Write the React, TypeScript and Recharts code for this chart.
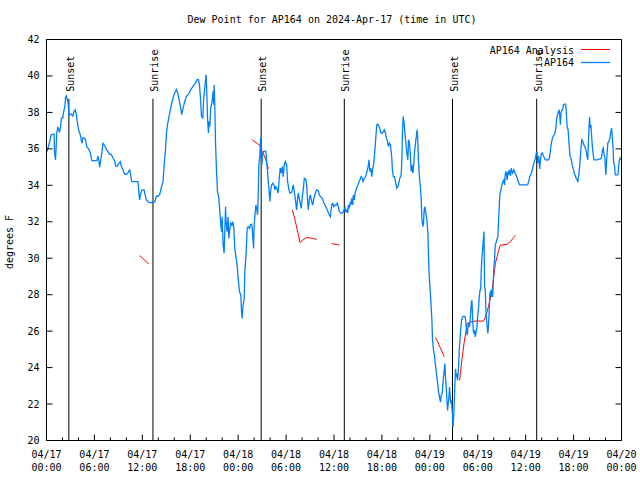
import React from 'react';
import { LineChart, Line, XAxis, YAxis, ReferenceLine } from 'recharts';

// hours since 04/17 00:00 UTC, dew point in degrees F
const apObsApr17: [number, number][] = [
  [0.08, 35.86], [0.4, 36.4], [0.6, 36.8], [0.95, 36.8], [1.0, 35.8], [1.13, 35.4], [1.29, 36.9], [1.42, 37.2],
  [1.63, 36.9], [1.76, 37.2], [1.88, 37.7], [2.05, 37.7], [2.13, 38.0], [2.3, 38.3], [2.38, 38.8], [2.47, 38.9],
  [2.6, 38.7], [2.72, 38.5], [2.8, 37.8], [2.89, 37.9], [3.1, 37.9], [3.3, 37.8], [3.43, 38.05], [3.6, 38.15],
  [3.73, 37.9], [3.85, 37.5], [4.02, 37.05], [4.14, 36.9], [4.27, 36.7], [4.43, 36.3], [4.55, 36.6], [4.68, 36.6],
  [4.86, 36.55], [5.06, 36.1], [5.27, 36.0], [5.48, 35.8], [5.68, 35.35], [5.9, 35.35], [6.31, 35.35], [6.44, 35.6],
  [6.56, 35.35], [6.65, 35.0], [6.78, 35.35], [6.94, 35.8], [7.06, 36.3], [7.19, 36.25], [7.36, 36.1], [7.49, 36.0],
  [7.69, 35.85], [7.9, 35.7], [8.12, 35.7], [8.32, 35.5], [8.53, 35.35], [8.66, 35.05], [8.87, 35.05], [9.07, 35.2],
  [9.25, 35.3], [9.37, 35.05], [9.57, 34.85], [9.79, 34.6], [10.0, 34.6], [10.2, 34.7], [10.41, 34.85], [10.54, 34.6],
  [10.66, 34.2], [11.46, 34.2], [11.58, 33.5], [11.67, 33.2], [11.79, 33.55], [11.96, 33.75], [12.21, 33.75], [12.33, 33.5],
  [12.51, 33.2], [12.71, 33.1], [12.92, 33.05], [13.34, 33.05], [13.55, 33.1], [13.76, 33.4], [13.96, 33.4], [14.18, 33.5],
  [14.39, 33.9], [14.59, 34.2], [14.72, 35.05], [14.89, 35.9], [15.02, 36.85], [15.15, 37.32], [15.3, 37.69], [15.47, 38.06],
  [15.64, 38.42], [15.84, 38.79], [16.06, 39.07], [16.27, 39.25], [16.43, 39.07], [16.56, 38.79], [16.77, 38.33], [16.93, 37.88],
  [17.1, 38.24], [17.31, 38.6], [17.52, 38.88], [17.81, 39.01], [18.06, 39.25], [18.35, 39.43], [18.65, 39.62], [18.85, 39.8],
  [19.03, 39.8], [19.15, 39.52], [19.28, 38.79], [19.41, 37.78], [19.57, 37.69], [19.69, 38.8], [19.86, 39.52], [19.98, 40.07],
  [20.07, 39.16], [20.16, 37.7], [20.28, 36.87], [20.36, 37.51], [20.45, 37.23], [20.57, 38.24], [20.74, 38.6], [20.86, 39.16],
  [20.95, 38.42], [20.99, 39.52], [21.07, 38.42], [21.16, 36.41], [21.29, 34.76], [21.41, 33.66], [21.58, 33.29], [21.7, 32.56],
  [21.83, 31.82], [21.92, 31.46], [21.99, 32.28], [22.12, 30.72], [22.24, 30.27], [22.33, 31.46], [22.42, 32.83], [22.49, 32.01],
  [22.62, 31.46], [22.74, 32.28], [22.83, 31.09], [22.96, 31.64], [23.08, 31.92], [23.21, 31.82], [23.33, 32.01], [23.46, 31.64],
  [23.58, 30.54], [23.75, 29.99], [23.87, 29.62], [24.0, 28.9],
];

const apObsApr18: [number, number][] = [
  [24.17, 28.16], [24.34, 27.97], [24.42, 27.06], [24.5, 26.69], [24.62, 27.42], [24.75, 27.79], [24.84, 29.26], [24.96, 29.99],
  [25.13, 31.64], [25.25, 31.73], [25.43, 31.64], [25.55, 31.83], [25.68, 31.86], [25.76, 31.64], [25.84, 31.09], [25.93, 30.54],
  [26.0, 31.82], [26.09, 32.28], [26.22, 32.92], [26.31, 32.74], [26.43, 32.37], [26.51, 33.47], [26.59, 35.12], [26.72, 35.67],
  [26.81, 36.59], [26.88, 35.67], [26.97, 35.12], [27.06, 35.67], [27.18, 35.86], [27.35, 35.89], [27.47, 35.86], [27.56, 35.31],
  [27.68, 34.76], [27.76, 34.21], [27.85, 33.84], [27.97, 33.11], [28.06, 33.66], [28.19, 34.02], [28.35, 34.12], [28.48, 34.02],
  [28.6, 33.75], [28.73, 33.93], [28.89, 33.75], [29.01, 33.57], [29.14, 34.39], [29.27, 34.94], [29.39, 34.67], [29.52, 35.03],
  [29.64, 34.48], [29.77, 35.12], [29.89, 35.31], [30.07, 35.12], [30.19, 34.21], [30.36, 33.75], [30.48, 33.57], [30.7, 33.62],
  [30.9, 34.02], [31.03, 33.66], [31.2, 33.11], [31.32, 32.65], [31.45, 33.29], [31.52, 33.57], [31.65, 33.29], [31.77, 33.02],
  [31.9, 32.74], [32.03, 33.38], [32.15, 33.75], [32.28, 34.39], [32.45, 34.35], [32.58, 34.02], [32.7, 33.11], [32.78, 32.65],
  [32.9, 33.2], [33.03, 33.47], [33.2, 33.11], [33.33, 32.92], [33.49, 33.29], [33.66, 33.57], [33.83, 33.75], [34.03, 33.7],
  [34.16, 33.47], [34.33, 33.38], [34.53, 33.29], [34.75, 33.02], [34.96, 32.83], [35.16, 32.65], [35.41, 32.37], [35.54, 32.28],
  [35.71, 32.92], [35.84, 33.02], [35.96, 32.83], [36.13, 32.92], [36.29, 32.92], [36.42, 33.02], [36.54, 32.83], [36.67, 32.56],
  [36.84, 32.47], [37.04, 32.47], [37.26, 32.65], [37.38, 32.78], [37.51, 32.56], [37.63, 32.65], [37.72, 32.47], [37.8, 32.92],
  [37.92, 32.74], [38.05, 33.11], [38.13, 32.92], [38.22, 33.29], [38.35, 32.92], [38.42, 33.47], [38.55, 33.2], [38.64, 33.57],
  [38.76, 33.75], [38.89, 33.93], [39.01, 34.02], [39.14, 34.21], [39.26, 34.3], [39.39, 34.48], [39.51, 34.43], [39.64, 34.21],
  [39.76, 34.35], [39.89, 34.43], [40.02, 34.57], [40.14, 34.76], [40.27, 35.03], [40.39, 35.4], [40.48, 34.76], [40.61, 34.94],
  [40.73, 34.48], [40.86, 34.94], [40.98, 35.22], [41.11, 35.86], [41.23, 36.59], [41.36, 37.32], [41.48, 37.36], [41.65, 37.23],
  [41.77, 37.05], [41.9, 36.87], [42.06, 36.87], [42.19, 36.96], [42.31, 37.05], [42.44, 36.87], [42.56, 36.59], [42.69, 36.41],
  [42.81, 36.13], [42.94, 36.32], [43.06, 36.23], [43.15, 35.86], [43.24, 35.49], [43.31, 34.85], [43.44, 34.48], [43.57, 34.48],
  [43.69, 34.21], [43.87, 33.84], [44.07, 34.02], [44.24, 34.39], [44.41, 34.57], [44.5, 35.4], [44.57, 36.87], [44.66, 37.78],
  [44.78, 37.42], [44.87, 36.87], [45.0, 36.32], [45.12, 35.77], [45.25, 35.4], [45.33, 36.5], [45.45, 36.32], [45.58, 35.58],
  [45.66, 34.76], [45.75, 35.12], [45.87, 34.67], [46.0, 35.22], [46.07, 35.77], [46.16, 36.13], [46.25, 36.5], [46.33, 36.77],
  [46.41, 37.05], [46.5, 36.32], [46.58, 35.31], [46.71, 34.39], [46.83, 33.84], [46.92, 33.2], [47.0, 32.19], [47.13, 31.73],
  [47.21, 31.92], [47.29, 32.65], [47.38, 32.83], [47.5, 32.47], [47.63, 32.1], [47.76, 31.37], [47.83, 30.17], [47.92, 29.07],
];

const apObsApr19: [number, number][] = [
  [48.04, 28.25], [48.17, 27.33], [48.26, 26.6], [48.33, 25.59], [48.46, 24.95], [48.58, 24.67], [48.71, 24.12], [48.83, 23.67],
  [48.96, 23.2], [49.09, 22.65], [49.21, 22.38], [49.34, 22.1], [49.42, 22.47], [49.55, 22.57], [49.67, 23.3], [49.8, 23.85],
  [49.89, 24.22], [49.96, 23.48], [50.05, 22.93], [50.14, 22.2], [50.22, 21.65], [50.3, 22.02], [50.39, 22.38], [50.47, 22.93],
  [50.55, 22.38], [50.64, 22.02], [50.72, 22.2], [50.8, 21.65], [50.89, 20.73], [50.97, 21.1], [51.05, 22.02], [51.14, 23.12],
  [51.22, 23.94], [51.3, 23.48], [51.39, 23.67], [51.47, 23.3], [51.6, 24.03], [51.68, 24.95], [51.77, 25.5], [51.85, 26.05],
  [51.97, 26.6], [52.1, 26.78], [52.27, 26.82], [52.44, 26.78], [52.56, 26.23], [52.69, 25.77], [52.77, 26.23], [52.85, 26.42],
  [52.94, 26.23], [53.02, 26.42], [53.1, 26.97], [53.19, 27.52], [53.27, 27.7], [53.35, 26.78], [53.44, 26.05], [53.52, 25.87],
  [53.6, 26.05], [53.69, 25.68], [53.77, 25.87], [53.9, 26.23], [53.98, 26.78], [54.11, 27.33], [54.19, 27.88], [54.28, 28.25],
  [54.36, 28.25], [54.44, 29.35], [54.53, 30.08], [54.61, 30.45], [54.69, 31.0], [54.78, 31.46], [54.86, 28.43], [54.94, 28.25],
  [55.02, 27.15], [55.11, 26.6], [55.19, 26.23], [55.27, 25.87], [55.36, 26.42], [55.44, 27.15], [55.52, 28.07], [55.61, 28.16],
  [55.69, 27.88], [55.77, 28.25], [55.86, 27.88], [55.94, 28.62], [56.02, 29.53], [56.1, 29.9], [56.19, 30.72], [56.27, 30.82],
  [56.44, 31.09], [56.52, 31.18], [56.61, 32.1], [56.69, 32.83], [56.77, 33.47], [56.9, 33.75], [57.02, 34.02], [57.15, 34.21],
  [57.27, 34.3], [57.36, 34.02], [57.44, 34.57], [57.52, 34.76], [57.6, 34.57], [57.69, 34.3], [57.77, 34.76], [57.85, 34.57],
  [57.94, 34.85], [58.02, 34.67], [58.1, 34.52], [58.19, 34.94], [58.27, 34.81], [58.35, 34.67], [58.44, 34.76], [58.52, 34.85],
  [58.65, 34.67], [58.77, 34.57], [58.9, 34.48], [59.02, 34.26], [59.15, 34.12], [59.27, 34.02], [60.25, 34.02], [60.4, 34.26],
  [60.52, 34.48], [60.68, 34.63], [60.81, 34.81], [60.93, 35.03], [61.09, 35.31], [61.22, 35.49], [61.34, 35.77], [61.43, 35.86],
  [61.5, 35.22], [61.63, 35.6], [61.75, 34.9], [61.84, 35.31], [61.97, 35.77], [62.09, 35.77], [62.26, 35.58], [62.47, 35.4],
  [62.68, 35.4], [62.88, 35.4], [63.01, 35.58], [63.13, 36.04], [63.26, 36.41], [63.38, 36.63], [63.51, 36.74], [63.63, 36.81],
  [63.76, 37.05], [63.85, 37.51], [63.93, 37.78], [64.06, 37.97], [64.18, 38.15], [64.26, 37.88], [64.35, 37.32], [64.43, 37.97],
  [64.56, 38.15], [64.64, 38.15], [64.73, 38.42], [64.85, 38.46], [64.98, 38.46], [65.06, 38.24], [65.19, 37.23], [65.31, 37.05],
  [65.44, 36.23], [65.56, 35.58], [65.69, 35.49], [65.82, 35.12], [65.94, 34.94], [66.07, 34.67], [66.19, 34.57], [66.32, 34.39],
  [66.44, 34.3], [66.53, 34.21], [66.65, 34.57], [66.78, 35.12], [66.9, 35.95], [67.03, 36.5], [67.15, 36.41], [67.28, 36.23],
  [67.4, 36.13], [67.53, 35.95], [67.66, 35.67], [67.78, 35.4], [67.91, 36.96], [68.0, 37.75], [68.08, 37.14], [68.16, 37.32],
  [68.25, 36.77], [68.33, 36.23], [68.46, 35.67], [68.54, 35.4], [68.75, 35.4], [68.96, 35.4], [69.17, 35.44], [69.37, 35.45],
  [69.49, 35.49], [69.62, 35.95], [69.71, 36.04], [69.79, 35.77], [69.92, 35.49], [70.04, 34.57], [70.13, 35.31], [70.21, 35.86],
  [70.29, 36.32], [70.42, 36.41], [70.55, 36.59], [70.63, 36.87], [70.76, 37.14], [70.85, 36.59], [70.93, 36.13], [71.01, 35.31],
  [71.14, 35.03], [71.22, 34.57], [71.55, 34.57], [71.68, 35.22], [71.8, 35.49], [71.89, 35.4],
];

// analysis series only exists in pieces
const analysisPieces: [number, number][][] = [
  [[11.67, 30.15], [12.0, 30.0], [12.4, 29.85], [12.8, 29.7]],
  [[25.76, 36.5], [26.2, 36.35], [26.7, 36.2], [26.9, 35.95], [27.3, 35.6], [27.6, 35.2], [27.8, 34.9]],
  [[30.78, 32.65], [31.0, 32.3], [31.25, 31.85], [31.5, 31.35], [31.74, 30.87], [32.1, 31.0], [32.58, 31.13], [33.0, 31.12],
    [33.4, 31.07], [33.84, 31.04]],
  [[35.72, 30.8], [36.35, 30.75], [36.67, 30.72]],
  [[48.68, 25.65], [49.0, 25.4], [49.3, 25.1], [49.6, 24.8], [49.81, 24.6]],
  [[51.73, 23.3], [52.03, 24.49], [52.28, 25.32], [52.4, 25.68], [52.53, 26.0], [52.66, 26.42], [53.07, 26.51], [53.91, 26.56],
    [54.74, 26.55], [54.96, 26.78], [55.17, 27.06], [55.37, 27.42], [55.58, 27.79], [55.8, 28.25], [56.0, 28.98], [56.21, 29.72],
    [56.42, 30.08], [56.63, 30.45], [56.84, 30.72], [57.68, 30.76], [58.09, 30.91], [58.51, 31.15], [58.72, 31.26]],
];

const sunEvents = ['Sunset', 'Sunrise', 'Sunset', 'Sunrise', 'Sunset', 'Sunrise'];
const sunHours = [2.8, 13.33, 26.88, 37.29, 50.84, 61.38];

const xTickDates = ['04/17', '04/17', '04/17', '04/17', '04/18', '04/18', '04/18', '04/18', '04/19', '04/19', '04/19', '04/19', '04/20'];
const xTickTimes = ['00:00', '06:00', '12:00', '18:00', '00:00', '06:00', '12:00', '18:00', '00:00', '06:00', '12:00', '18:00', '00:00'];
const yTicks = [20, 22, 24, 26, 28, 30, 32, 34, 36, 38, 40, 42];

const X_TICKS = Array.from({ length: 37 }, (_, i) => i * 2);
const FONT = "'DejaVu Sans Mono', monospace";
const BLUE = '#0080ff';
const RED = '#ff0000';

const blueData = [...apObsApr17, ...apObsApr18, ...apObsApr19].map(([t, v]) => ({ t, v }));
const redData: { t: number; v: number | null }[] = [];
analysisPieces.forEach((piece, i) => {
  if (i > 0) redData.push({ t: (analysisPieces[i - 1].slice(-1)[0][0] + piece[0][0]) / 2, v: null });
  piece.forEach(([t, v]) => redData.push({ t, v }));
});

const BottomTick = (props: any) => {
  const { x, y, payload } = props;
  const major = payload.value % 6 === 0;
  const idx = payload.value / 6;
  return (
    <g>
      <line x1={x} x2={x} y1={y} y2={y - (major ? 6 : 3)} stroke="#000" />
      {major && (
        <text fontFamily={FONT} fontSize={10} fill="#000" textAnchor="middle">
          <tspan x={x} y={y + 17.5}>{xTickDates[idx]}</tspan>
          <tspan x={x} y={y + 30}>{xTickTimes[idx]}</tspan>
        </text>
      )}
    </g>
  );
};

const TopTick = (props: any) => {
  const { x, y, payload } = props;
  const major = payload.value % 6 === 0;
  return <line x1={x} x2={x} y1={y} y2={y + (major ? 6 : 3)} stroke="#000" />;
};

const LeftTick = (props: any) => {
  const { x, y, payload } = props;
  return (
    <g>
      <line x1={x} x2={x + 6} y1={y} y2={y} stroke="#000" />
      <text x={x - 7} y={y + 3.5} fontFamily={FONT} fontSize={10} fill="#000" textAnchor="end">{payload.value}</text>
    </g>
  );
};

const RightTick = (props: any) => {
  const { x, y } = props;
  return <line x1={x} x2={x - 6} y1={y} y2={y} stroke="#000" />;
};

const SunLabel = (props: any) => {
  const vb = props.viewBox || props;
  return (
    <text
      transform={`translate(${vb.x + 5}, ${vb.y - 7}) rotate(-90)`}
      fontFamily={FONT}
      fontSize={10}
      fill="#000"
      textAnchor="start"
    >
      {props.text}
    </text>
  );
};

export default function App() {
  return (
    <div style={{ position: 'absolute', left: 0, top: 0, width: 640, height: 480, background: '#fff' }}>
      <LineChart width={640} height={480} margin={{ top: 38.5, right: 17.5, bottom: 38.5, left: 45.5 }}>
        <XAxis
          xAxisId="b"
          type="number"
          dataKey="t"
          domain={[0, 72]}
          allowDataOverflow
          ticks={X_TICKS}
          interval={0}
          height={1}
          tickSize={0}
          tickMargin={0}
          tickLine={false}
          tick={<BottomTick />}
          axisLine={{ stroke: '#000' }}
        />
        <XAxis
          xAxisId="top"
          orientation="top"
          type="number"
          domain={[0, 72]}
          allowDataOverflow
          ticks={X_TICKS}
          interval={0}
          height={1}
          tickSize={0}
          tickMargin={0}
          tickLine={false}
          tick={<TopTick />}
          axisLine={{ stroke: '#000' }}
        />
        <YAxis
          yAxisId="l"
          type="number"
          domain={[20, 42]}
          allowDataOverflow
          ticks={yTicks}
          interval={0}
          width={1}
          tickSize={0}
          tickMargin={0}
          tickLine={false}
          tick={<LeftTick />}
          axisLine={{ stroke: '#000' }}
        />
        <YAxis
          yAxisId="r"
          orientation="right"
          type="number"
          domain={[20, 42]}
          allowDataOverflow
          ticks={yTicks}
          interval={0}
          width={1}
          tickSize={0}
          tickMargin={0}
          tickLine={false}
          tick={<RightTick />}
          axisLine={{ stroke: '#000' }}
        />
        {sunHours.map((h, i) => (
          <ReferenceLine
            key={`sun-${i}`}
            xAxisId="b"
            yAxisId="l"
            segment={[{ x: h, y: 20 }, { x: h, y: 38.75 }]}
            stroke="#000"
            strokeWidth={1}
            label={<SunLabel text={sunEvents[i]} />}
          />
        ))}
        <Line
          xAxisId="b"
          yAxisId="l"
          data={redData}
          dataKey="v"
          type="linear"
          stroke={RED}
          strokeWidth={1}
          dot={false}
          activeDot={false}
          connectNulls={false}
          isAnimationActive={false}
        />
        <Line
          xAxisId="b"
          yAxisId="l"
          data={blueData}
          dataKey="v"
          type="linear"
          stroke={BLUE}
          strokeWidth={1.3}
          dot={false}
          activeDot={false}
          isAnimationActive={false}
        />
      </LineChart>
      <svg width={640} height={480} style={{ position: 'absolute', left: 0, top: 0, pointerEvents: 'none' }}>
        <text x={332} y={23} fontFamily={FONT} fontSize={10} fill="#000" textAnchor="middle">
          Dew Point for AP164 on 2024-Apr-17 (time in UTC)
        </text>
        <text transform="translate(13, 242) rotate(-90)" fontFamily={FONT} fontSize={10} fill="#000" textAnchor="middle">
          degrees F
        </text>
        <text x={574} y={53.5} fontFamily={FONT} fontSize={10} fill="#000" textAnchor="end">AP164 Analysis</text>
        <line x1={581} x2={610} y1={49.5} y2={49.5} stroke={RED} strokeWidth={1} />
        <text x={574} y={66} fontFamily={FONT} fontSize={10} fill="#000" textAnchor="end">AP164</text>
        <line x1={581} x2={610} y1={62.5} y2={62.5} stroke={BLUE} strokeWidth={1.3} />
      </svg>
    </div>
  );
}
